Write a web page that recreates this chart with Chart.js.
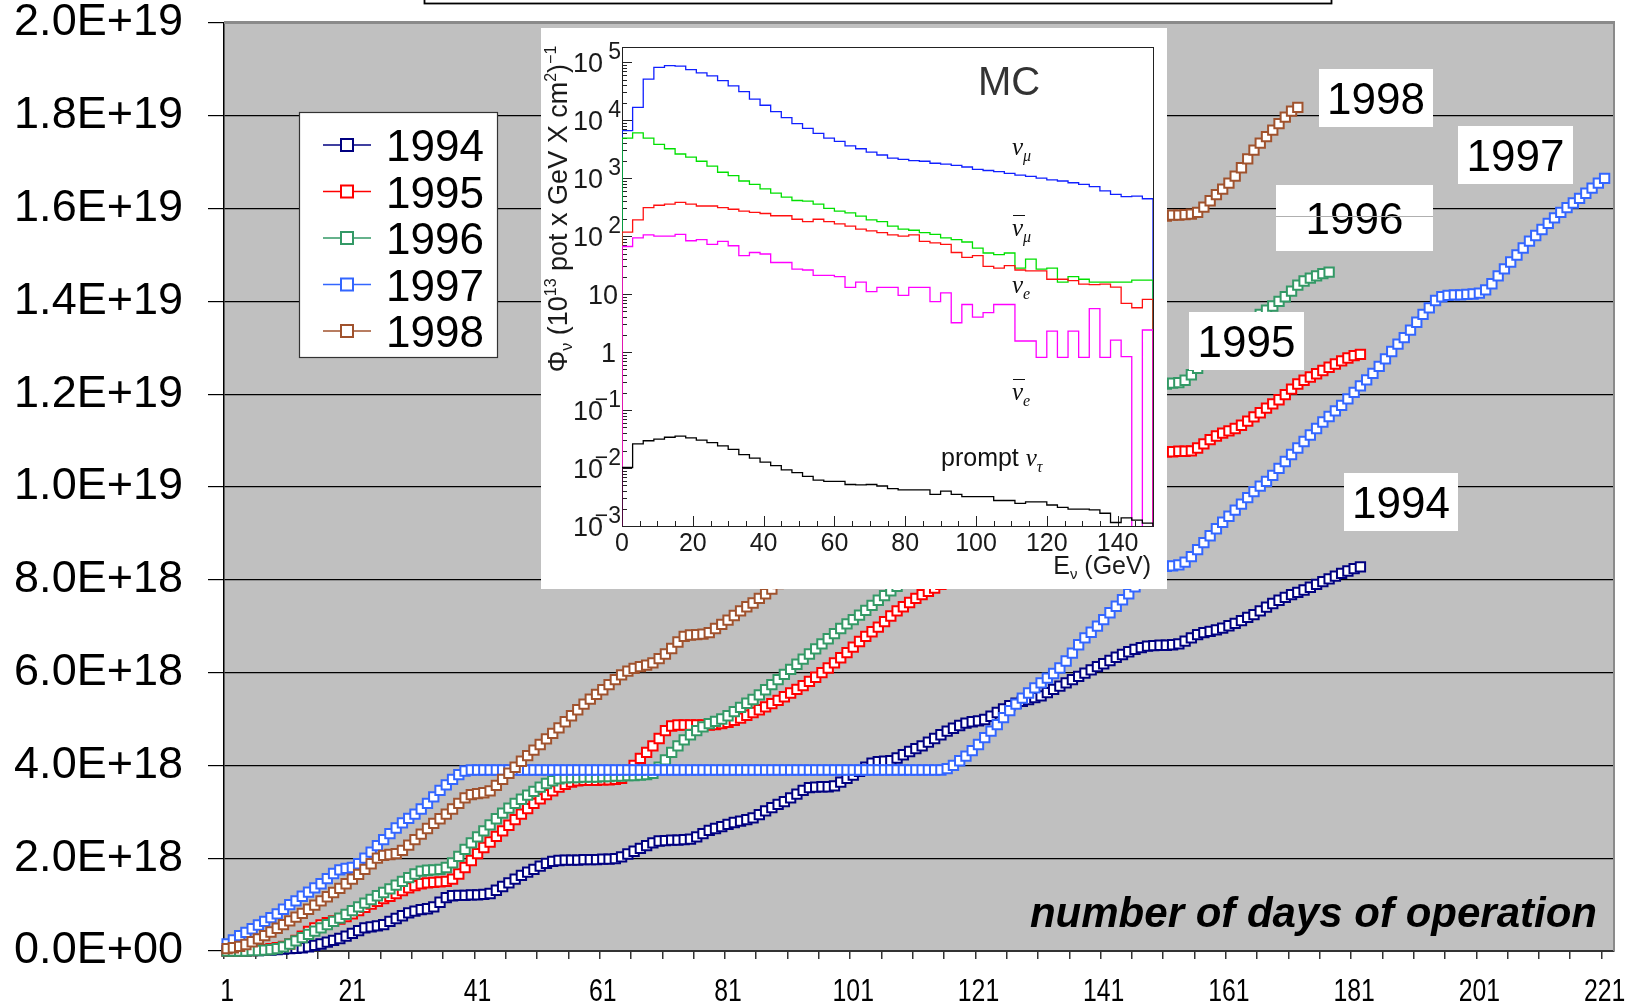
<!DOCTYPE html>
<html>
<head>
<meta charset="utf-8">
<script src="https://cdn.jsdelivr.net/npm/chart.js@4.4.1/dist/chart.umd.min.js"></script>
<style>
html, body { margin: 0; padding: 0; background: #fff; }
#wrap { position: relative; width: 1628px; height: 1005px; overflow: hidden; }
#main { position: absolute; left: 0; top: 0; }
#inset { position: absolute; left: 541px; top: 28px; }
</style>
</head>
<body>
<div id="wrap">
  <canvas id="main" width="1628" height="1005"></canvas>
  <canvas id="inset" width="626" height="561"></canvas>
</div>
<script>
// === data: protons on target, units of 1E18 ===
const days = [];
for (let d = 1; d <= 222; d++) days.push(String(d));
const dayTicks = ['1', '21', '41', '61', '81', '101', '121', '141', '161', '181', '201', '221'];
const yTicks = ['0.0E+00', '2.0E+18', '4.0E+18', '6.0E+18', '8.0E+18', '1.0E+19', '1.2E+19', '1.4E+19', '1.6E+19', '1.8E+19', '2.0E+19'];
const years = ['1994', '1995', '1996', '1997', '1998'];
const yearColors = ['#000080', '#ff0000', '#339966', '#3366ff', '#a0522d'];

const pot1994 = [
  0.00, 0.00, 0.00, 0.00, 0.01, 0.01, 0.02, 0.02, 0.03, 0.04,
  0.05, 0.06, 0.07, 0.09, 0.12, 0.15, 0.19, 0.23, 0.27, 0.32,
  0.38, 0.44, 0.50, 0.52, 0.54, 0.57, 0.64, 0.70, 0.76, 0.82,
  0.86, 0.89, 0.91, 0.95, 1.05, 1.15, 1.19, 1.20, 1.20, 1.21,
  1.21, 1.22, 1.24, 1.31, 1.39, 1.47, 1.55, 1.63, 1.70, 1.76,
  1.83, 1.89, 1.93, 1.95, 1.96, 1.96, 1.96, 1.97, 1.97, 1.97,
  1.98, 1.98, 1.99, 2.03, 2.09, 2.15, 2.21, 2.27, 2.33, 2.37,
  2.38, 2.39, 2.39, 2.40, 2.41, 2.46, 2.53, 2.60, 2.64, 2.68,
  2.73, 2.77, 2.80, 2.83, 2.87, 2.94, 3.02, 3.09, 3.16, 3.22,
  3.30, 3.38, 3.46, 3.52, 3.53, 3.54, 3.54, 3.56, 3.64, 3.72,
  3.79, 3.87, 3.96, 4.05, 4.08, 4.09, 4.10, 4.16, 4.23, 4.30,
  4.36, 4.42, 4.50, 4.58, 4.66, 4.74, 4.80, 4.86, 4.91, 4.94,
  4.96, 4.99, 5.06, 5.14, 5.22, 5.29, 5.34, 5.38, 5.42, 5.46,
  5.50, 5.57, 5.64, 5.71, 5.78, 5.85, 5.92, 5.99, 6.06, 6.13,
  6.19, 6.26, 6.33, 6.39, 6.45, 6.50, 6.54, 6.57, 6.58, 6.59,
  6.59, 6.60, 6.62, 6.68, 6.75, 6.82, 6.86, 6.89, 6.92, 6.96,
  7.01, 7.06, 7.12, 7.19, 7.25, 7.33, 7.41, 7.49, 7.56, 7.62,
  7.68, 7.73, 7.78, 7.84, 7.90, 7.96, 8.02, 8.08, 8.14, 8.19,
  8.24, 8.28
];
const pot1995 = [
  0.00, 0.00, 0.00, 0.01, 0.01, 0.02, 0.03, 0.05, 0.07, 0.10,
  0.15, 0.23, 0.32, 0.42, 0.50, 0.56, 0.61, 0.65, 0.69, 0.74,
  0.80, 0.87, 0.94, 1.01, 1.07, 1.13, 1.18, 1.24, 1.30, 1.36,
  1.41, 1.45, 1.47, 1.48, 1.49, 1.50, 1.55, 1.66, 1.80, 1.95,
  2.10, 2.23, 2.35, 2.47, 2.59, 2.71, 2.83, 2.95, 3.07, 3.18,
  3.28, 3.37, 3.45, 3.53, 3.59, 3.64, 3.67, 3.68, 3.68, 3.68,
  3.69, 3.69, 3.70, 3.72, 3.83, 4.00, 4.15, 4.28, 4.42, 4.58,
  4.75, 4.85, 4.87, 4.87, 4.87, 4.87, 4.87, 4.87, 4.88, 4.90,
  4.93, 4.97, 5.02, 5.08, 5.14, 5.20, 5.26, 5.33, 5.40, 5.48,
  5.56, 5.64, 5.72, 5.81, 5.90, 6.00, 6.10, 6.21, 6.32, 6.43,
  6.55, 6.67, 6.78, 6.88, 6.98, 7.10, 7.22, 7.33, 7.42, 7.51,
  7.60, 7.68, 7.75, 7.82, 7.90, 7.99, 8.09, 8.18, 8.26, 8.35,
  8.45, 8.55, 8.63, 8.71, 8.80, 8.90, 9.00, 9.08, 9.16, 9.25,
  9.35, 9.45, 9.53, 9.61, 9.70, 9.80, 9.90, 9.98, 10.06, 10.15,
  10.25, 10.35, 10.43, 10.51, 10.60, 10.67, 10.72, 10.75, 10.76, 10.76,
  10.76, 10.76, 10.77, 10.77, 10.78, 10.84, 10.93, 11.02, 11.10, 11.16,
  11.21, 11.26, 11.33, 11.42, 11.51, 11.60, 11.70, 11.79, 11.88, 11.99,
  12.11, 12.22, 12.30, 12.37, 12.44, 12.51, 12.58, 12.65, 12.72, 12.78,
  12.83, 12.86
];
const pot1996 = [
  0.00, 0.00, 0.00, 0.00, 0.01, 0.01, 0.02, 0.03, 0.05, 0.09,
  0.15, 0.22, 0.29, 0.36, 0.43, 0.50, 0.57, 0.64, 0.71, 0.79,
  0.87, 0.95, 1.03, 1.11, 1.19, 1.26, 1.34, 1.42, 1.50, 1.58,
  1.66, 1.72, 1.74, 1.75, 1.76, 1.80, 1.90, 2.04, 2.19, 2.33,
  2.46, 2.59, 2.72, 2.85, 2.97, 3.08, 3.18, 3.27, 3.36, 3.44,
  3.53, 3.61, 3.67, 3.71, 3.73, 3.74, 3.74, 3.75, 3.75, 3.75,
  3.76, 3.76, 3.77, 3.77, 3.78, 3.78, 3.79, 3.80, 3.83, 3.96,
  4.12, 4.28, 4.42, 4.55, 4.66, 4.75, 4.83, 4.90, 4.95, 5.00,
  5.07, 5.16, 5.25, 5.34, 5.42, 5.52, 5.63, 5.74, 5.85, 5.96,
  6.07, 6.18, 6.29, 6.40, 6.51, 6.62, 6.73, 6.84, 6.95, 7.05,
  7.14, 7.24, 7.34, 7.45, 7.56, 7.66, 7.76, 7.86, 7.96, 8.07,
  8.17, 8.27, 8.36, 8.46, 8.57, 8.68, 8.79, 8.89, 8.98, 9.08,
  9.19, 9.30, 9.40, 9.50, 9.59, 9.69, 9.80, 9.91, 10.02, 10.12,
  10.21, 10.31, 10.42, 10.53, 10.63, 10.73, 10.82, 10.92, 11.03, 11.14,
  11.25, 11.35, 11.44, 11.54, 11.65, 11.76, 11.87, 11.97, 12.06, 12.15,
  12.22, 12.24, 12.25, 12.30, 12.42, 12.56, 12.70, 12.84, 12.98, 13.12,
  13.25, 13.37, 13.47, 13.56, 13.64, 13.72, 13.81, 13.90, 14.00, 14.10,
  14.22, 14.35, 14.44, 14.50, 14.55, 14.60, 14.63
];
const pot1997 = [
  0.15, 0.24, 0.33, 0.40, 0.48, 0.56, 0.64, 0.72, 0.80, 0.90,
  1.00, 1.08, 1.18, 1.27, 1.36, 1.45, 1.56, 1.67, 1.75, 1.78,
  1.80, 1.88, 2.00, 2.13, 2.27, 2.40, 2.53, 2.65, 2.76, 2.86,
  2.95, 3.06, 3.18, 3.32, 3.46, 3.58, 3.70, 3.80, 3.88, 3.90,
  3.90, 3.90, 3.90, 3.90, 3.90, 3.90, 3.90, 3.90, 3.90, 3.90,
  3.90, 3.90, 3.90, 3.90, 3.90, 3.90, 3.90, 3.90, 3.90, 3.90,
  3.90, 3.90, 3.90, 3.90, 3.90, 3.90, 3.90, 3.90, 3.90, 3.90,
  3.90, 3.90, 3.90, 3.90, 3.90, 3.90, 3.90, 3.90, 3.90, 3.90,
  3.90, 3.90, 3.90, 3.90, 3.90, 3.90, 3.90, 3.90, 3.90, 3.90,
  3.90, 3.90, 3.90, 3.90, 3.90, 3.90, 3.90, 3.90, 3.90, 3.90,
  3.90, 3.90, 3.90, 3.90, 3.90, 3.90, 3.90, 3.90, 3.90, 3.90,
  3.90, 3.90, 3.90, 3.90, 3.90, 3.93, 4.00, 4.10, 4.20, 4.32,
  4.45, 4.60, 4.74, 4.88, 5.03, 5.18, 5.32, 5.45, 5.56, 5.67,
  5.78, 5.88, 5.98, 6.10, 6.25, 6.42, 6.60, 6.75, 6.87, 7.00,
  7.14, 7.29, 7.43, 7.57, 7.70, 7.85, 8.00, 8.13, 8.24, 8.28,
  8.29, 8.30, 8.32, 8.38, 8.50, 8.65, 8.80, 8.95, 9.10, 9.24,
  9.37, 9.50, 9.63, 9.77, 9.90, 10.02, 10.12, 10.25, 10.40, 10.55,
  10.70, 10.84, 10.98, 11.12, 11.26, 11.40, 11.52, 11.64, 11.76, 11.90,
  12.04, 12.18, 12.31, 12.45, 12.60, 12.76, 12.92, 13.08, 13.22, 13.38,
  13.55, 13.72, 13.86, 14.02, 14.10, 14.13, 14.14, 14.14, 14.15, 14.16,
  14.18, 14.25, 14.38, 14.55, 14.70, 14.85, 15.00, 15.15, 15.30, 15.42,
  15.55, 15.68, 15.80, 15.92, 16.02, 16.12, 16.22, 16.33, 16.44, 16.55,
  16.65
];
const pot1998 = [
  0.05, 0.07, 0.10, 0.14, 0.20, 0.26, 0.33, 0.41, 0.49, 0.57,
  0.65, 0.73, 0.81, 0.90, 0.99, 1.08, 1.17, 1.26, 1.35, 1.45,
  1.55, 1.65, 1.76, 1.88, 2.00, 2.06, 2.08, 2.10, 2.17, 2.28,
  2.40, 2.52, 2.64, 2.75, 2.85, 2.95, 3.06, 3.18, 3.30, 3.37,
  3.39, 3.41, 3.45, 3.57, 3.70, 3.83, 3.96, 4.09, 4.21, 4.33,
  4.45, 4.57, 4.69, 4.81, 4.94, 5.07, 5.20, 5.32, 5.43, 5.53,
  5.63, 5.74, 5.85, 5.95, 6.03, 6.09, 6.13, 6.16, 6.21, 6.30,
  6.40, 6.52, 6.66, 6.78, 6.81, 6.82, 6.83, 6.86, 6.95, 7.04,
  7.13, 7.23, 7.33, 7.42, 7.50, 7.60, 7.70, 7.80, 7.92, 8.04,
  8.17, 8.30, 8.42, 8.54, 8.66, 8.79, 8.93, 9.06, 9.18, 9.30,
  9.42, 9.55, 9.68, 9.82, 9.95, 10.07, 10.18, 10.30, 10.43, 10.57,
  10.73, 10.85, 10.96, 11.08, 11.21, 11.35, 11.48, 11.60, 11.71, 11.83,
  11.96, 12.10, 12.23, 12.35, 12.46, 12.58, 12.71, 12.85, 12.98, 13.10,
  13.21, 13.33, 13.46, 13.60, 13.73, 13.85, 13.96, 14.08, 14.21, 14.35,
  14.48, 14.60, 14.71, 14.83, 14.96, 15.10, 15.23, 15.40, 15.60, 15.78,
  15.84, 15.86, 15.86, 15.87, 15.88, 15.92, 16.03, 16.17, 16.30, 16.42,
  16.55, 16.70, 16.88, 17.07, 17.26, 17.41, 17.55, 17.69, 17.83, 17.97,
  18.10, 18.18
];
const potSeries = [pot1994, pot1995, pot1996, pot1997, pot1998];

// === inset: MC flux per 3 GeV bin ===
const eBins = Array.from({ length: 51 }, (_, k) => 3 * k);
const eTicks = [0, 20, 40, 60, 80, 100, 120, 140];
const fluxDecades = [-3, -2, -1, 0, 1, 2, 3, 4, 5];
const fluxNuMu = [6600, 16600, 51000, 81000, 87000, 85000, 74000, 65000, 58000, 48000,
  39000, 31000, 23000, 18000, 14000, 11000, 8700, 7200, 5900, 4900,
  4300, 3600, 3200, 2800, 2500, 2200, 2100, 2000, 1950, 1800,
  1740, 1660, 1550, 1410, 1350, 1290, 1200, 1120, 1070, 1000,
  930, 890, 830, 780, 710, 600, 525, 480, 490, 440];
const fluxNuMuBar = [4900, 6000, 4900, 3800, 3200, 2600, 2300, 1950, 1600, 1260,
  1100, 890, 780, 650, 550, 470, 410, 400, 355, 300,
  270, 250, 220, 190, 178, 148, 132, 126, 115, 107,
  93, 87, 79, 62, 51, 48, 51, 28, 40, 27,
  28, 16, 20, 18, 16, 16, 16, 16, 17.4, 17.4];
const fluxNuE = [117, 190, 310, 340, 355, 380, 355, 330, 330, 310,
  290, 270, 257, 245, 224, 224, 195, 178, 195, 178,
  162, 148, 132, 123, 115, 105, 100, 105, 81, 76,
  72, 52, 43, 46, 30, 28, 31, 26, 25, 25,
  18, 18, 17, 14.8, 14.5, 14.8, 13.2, 6.9, 5.8, 8.1];
const fluxNuEBar = [66, 93, 105, 100, 100, 107, 83, 87, 72, 81,
  68, 46, 52, 49, 35, 35, 27, 26, 21, 21,
  20, 13, 16, 11, 13, 13, 9.5, 13, 13, 7.4,
  10.5, 3.2, 6.6, 4.0, 4.8, 6.6, 6.6, 1.55, 1.55, 0.81,
  2.3, 0.81, 2.3, 0.81, 5.6, 0.81, 1.6, 0.83, 0, 2.4];
const fluxNuTau = [0.0102, 0.026, 0.0295, 0.0316, 0.0339, 0.0355, 0.0331, 0.0302, 0.0275, 0.024,
  0.0209, 0.017, 0.0148, 0.0126, 0.011, 0.0093, 0.0083, 0.0072, 0.0062, 0.0059,
  0.0059, 0.0052, 0.0051, 0.0052, 0.0049, 0.0044, 0.0042, 0.0042, 0.0042, 0.0035,
  0.0040, 0.0035, 0.0032, 0.0032, 0.0032, 0.00275, 0.00275, 0.00245, 0.0026, 0.0026,
  0.0023, 0.0021, 0.00195, 0.00195, 0.0019, 0.00166, 0.00115, 0.00138, 0.00126, 0.00112];
const fluxSeries = [fluxNuMu, fluxNuMuBar, fluxNuE, fluxNuEBar, fluxNuTau];
const fluxColors = ['#1020ff', '#00e000', '#ff1010', '#ff00ff', '#000000'];
const histFloor = 1e-4;

const SANS = '"Liberation Sans", Arial, sans-serif';
const SERIF = '"Liberation Serif", "Times New Roman", serif';
Chart.defaults.font.family = SANS;
Chart.defaults.color = '#000';

function drawRuns(ctx, runs, x, y, align) {
    let w = 0;
    runs.forEach(r => { ctx.font = r.font; r.w = ctx.measureText(r.t).width; w += r.w; });
    let cx = align === 'center' ? x - w / 2 : (align === 'right' ? x - w : x);
    ctx.textAlign = 'left';
    runs.forEach(r => { ctx.font = r.font; ctx.fillText(r.t, cx, y + (r.dy || 0)); cx += r.w; });
}

function square(ctx, x, y, side, color) {
    ctx.fillStyle = '#fff';
    ctx.fillRect(x - side / 2, y - side / 2, side, side);
    ctx.strokeStyle = color;
    ctx.lineWidth = 2;
    ctx.strokeRect(x - side / 2, y - side / 2, side, side);
}

// === main chart decorations ===
const mainDecor = {
    id: 'mainDecor',
    beforeDraw(chart) {
        const { ctx, chartArea: a } = chart;
        ctx.save();
        ctx.fillStyle = '#fff';
        ctx.fillRect(0, 0, chart.width, chart.height);
        ctx.fillStyle = '#c0c0c0';
        ctx.fillRect(a.left, a.top, a.right - a.left, a.bottom - a.top);
        ctx.restore();
    },
    afterDraw(chart) {
        const { ctx, chartArea: a } = chart;
        const xs = chart.scales.x;
        ctx.save();

        // plot frame, top and right
        ctx.strokeStyle = '#8a8a8a';
        ctx.lineWidth = 3;
        ctx.beginPath(); ctx.moveTo(a.left, a.top - 0.5); ctx.lineTo(a.right + 1, a.top - 0.5); ctx.stroke();
        ctx.lineWidth = 2;
        ctx.beginPath(); ctx.moveTo(a.right, a.top); ctx.lineTo(a.right, a.bottom); ctx.stroke();

        // narrow day labels
        ctx.fillStyle = '#000';
        ctx.font = '31px ' + SANS;
        ctx.textAlign = 'center';
        ctx.textBaseline = 'alphabetic';
        dayTicks.forEach(t => {
            const x = xs.getPixelForValue(days.indexOf(t));
            ctx.save();
            ctx.translate(x, 1001);
            ctx.scale(0.8, 1);
            ctx.fillText(t, 0, 0);
            ctx.restore();
        });

        ctx.font = 'italic bold 42px ' + SANS;
        ctx.textAlign = 'right';
        ctx.fillText('number of days of operation', 1597, 927);

        // legend
        ctx.fillStyle = '#fff';
        ctx.fillRect(299, 112, 198, 245);
        ctx.strokeStyle = '#333';
        ctx.lineWidth = 1.2;
        ctx.strokeRect(299.5, 112.5, 198, 245);
        years.forEach((yr, k) => {
            const cy = 145 + k * 46.5;
            ctx.strokeStyle = yearColors[k];
            ctx.lineWidth = 1.6;
            ctx.beginPath(); ctx.moveTo(323, cy); ctx.lineTo(371, cy); ctx.stroke();
            square(ctx, 347, cy, 12, yearColors[k]);
            ctx.fillStyle = '#000';
            ctx.font = '44px ' + SANS;
            ctx.textAlign = 'left';
            ctx.fillText(yr, 386, cy + 16);
        });

        // year tags
        const tags = [
            { t: '1998', x: 1319, y: 69, w: 114, h: 58 },
            { t: '1997', x: 1458, y: 126, w: 115, h: 58 },
            { t: '1996', x: 1276, y: 185, w: 157, h: 66 },
            { t: '1995', x: 1189, y: 312, w: 115, h: 58 },
            { t: '1994', x: 1344, y: 473, w: 114, h: 58 }
        ];
        tags.forEach(g => {
            ctx.fillStyle = '#fff';
            ctx.fillRect(g.x, g.y, g.w, g.h);
            ctx.fillStyle = '#000';
            ctx.font = '44px ' + SANS;
            ctx.textAlign = 'center';
            ctx.fillText(g.t, g.x + g.w / 2, g.y + g.h / 2 + 16);
        });
        ctx.strokeStyle = '#b0b0b0';
        ctx.lineWidth = 1;
        ctx.beginPath(); ctx.moveTo(1276, 216.5); ctx.lineTo(1433, 216.5); ctx.stroke();

        // box cut off at the top
        ctx.fillStyle = '#fff';
        ctx.fillRect(424, -10, 907, 14);
        ctx.strokeStyle = '#000';
        ctx.lineWidth = 1.8;
        ctx.strokeRect(424.5, -10, 907, 13.5);
        ctx.restore();
    }
};

new Chart(document.getElementById('main'), {
    type: 'line',
    data: {
        labels: days,
        datasets: years.map((yr, k) => ({
            label: yr,
            data: potSeries[k],
            borderColor: yearColors[k],
            borderWidth: 1.2,
            pointStyle: 'rect',
            pointRadius: 6.6,
            pointBorderWidth: 2,
            pointBackgroundColor: '#fff',
            pointBorderColor: yearColors[k],
            tension: 0,
            order: 5 - k,
            clip: false
        }))
    },
    options: {
        responsive: false,
        animation: false,
        events: [],
        layout: { padding: { top: 23, right: 14, left: 0, bottom: 0 } },
        plugins: { legend: { display: false }, tooltip: { enabled: false } },
        scales: {
            x: {
                type: 'category',
                offset: true,
                grid: {
                    offset: true,
                    drawOnChartArea: false,
                    tickLength: 8,
                    lineWidth: 1.5,
                    color: c => (c.index % 5 === 0 ? '#333' : 'rgba(0,0,0,0)')
                },
                border: { color: '#333', width: 2 },
                ticks: { display: false, autoSkip: false },
                afterFit: s => { s.height = 54; s.paddingLeft = 0; s.paddingRight = 0; }
            },
            y: {
                min: 0,
                max: 20,
                ticks: {
                    stepSize: 2,
                    padding: 25,
                    font: { size: 45, lineHeight: 1 },
                    color: '#000',
                    callback: (v, i) => yTicks[i]
                },
                grid: { color: '#000', lineWidth: 1.2, tickLength: 16 },
                border: { color: '#000', width: 1.5 },
                afterFit: s => { s.width = 224; s.paddingTop = 0; s.paddingBottom = 0; }
            }
        }
    },
    plugins: [mainDecor]
});

// === inset: flux histogram ===
function histPoints(vals) {
    const pts = [{ x: eBins[0], y: histFloor }];
    vals.forEach((v, k) => pts.push({ x: eBins[k], y: v > 0 ? v : histFloor }));
    const last = vals[vals.length - 1];
    pts.push({ x: eBins[50], y: last > 0 ? last : histFloor });
    pts.push({ x: eBins[50], y: histFloor });
    return pts;
}

const insetDecor = {
    id: 'insetDecor',
    beforeDraw(chart) {
        const { ctx } = chart;
        ctx.save();
        ctx.fillStyle = '#fff';
        ctx.fillRect(0, 0, chart.width, chart.height);
        ctx.restore();
    },
    beforeDatasetsDraw(chart) {
        const { ctx, chartArea: a } = chart;
        const xs = chart.scales.x, ys = chart.scales.y;
        ctx.save();
        ctx.strokeStyle = '#222';
        ctx.lineWidth = 1;
        ctx.strokeRect(a.left + 0.5, a.top + 0.5, a.right - a.left, a.bottom - a.top);
        ctx.beginPath();
        for (let e = 0; e <= 150; e += 5) {
            const px = Math.round(xs.getPixelForValue(e)) + 0.5;
            const len = e % 20 === 0 ? 10 : 5;
            ctx.moveTo(px, a.bottom);
            ctx.lineTo(px, a.bottom - len);
        }
        fluxDecades.forEach(k => {
            for (let m = 1; m <= 9; m++) {
                const v = m * Math.pow(10, k);
                if (v > ys.max) break;
                const py = Math.round(ys.getPixelForValue(v)) + 0.5;
                ctx.moveTo(a.left, py);
                ctx.lineTo(a.left + (m === 1 ? 10 : 5), py);
            }
        });
        ctx.stroke();
        ctx.restore();
    },
    afterDraw(chart) {
        const { ctx, chartArea: a } = chart;
        const xs = chart.scales.x, ys = chart.scales.y;
        ctx.save();
        ctx.fillStyle = '#1a1a1a';
        ctx.textBaseline = 'alphabetic';

        ctx.font = '25px ' + SANS;
        ctx.textAlign = 'center';
        eTicks.forEach(e => ctx.fillText(String(e), xs.getPixelForValue(e), a.bottom + 25));

        fluxDecades.forEach(k => {
            const py = ys.getPixelForValue(Math.pow(10, k));
            ctx.textAlign = 'right';
            ctx.font = '27px ' + SANS;
            if (k === 0) { ctx.fillText('1', a.left - 6, py + 10); return; }
            if (k === 1) { ctx.fillText('10', a.left - 4, py + 10); return; }
            ctx.fillText('10', a.left - 19, py + 10);
            ctx.font = '23px ' + SANS;
            ctx.fillText(k < 0 ? '\u2212' + (-k) : String(k), a.left - 1, py - 3);
        });

        // rotated axis title
        ctx.save();
        ctx.translate(17, 181);
        ctx.rotate(-Math.PI / 2);
        drawRuns(ctx, [
            { t: '\u03a6', font: '27px ' + SANS },
            { t: '\u03bd', font: '16px ' + SANS, dy: 5 },
            { t: ' (10', font: '27px ' + SANS },
            { t: '13', font: '16px ' + SANS, dy: -11 },
            { t: ' pot x GeV X cm', font: '27px ' + SANS },
            { t: '2', font: '16px ' + SANS, dy: -11 },
            { t: ')', font: '27px ' + SANS },
            { t: '\u22121', font: '16px ' + SANS, dy: -11 }
        ], 0, 9, 'center');
        ctx.restore();

        ctx.fillStyle = '#333';
        ctx.font = '40px ' + SANS;
        ctx.textAlign = 'left';
        ctx.fillText('MC', 437, 67);

        ctx.fillStyle = '#111';
        const nu = 'italic 25px ' + SERIF, sub = 'italic 16px ' + SERIF;
        drawRuns(ctx, [{ t: '\u03bd', font: nu }, { t: '\u03bc', font: sub, dy: 6 }], 471, 127, 'left');
        drawRuns(ctx, [{ t: '\u03bd', font: nu }, { t: '\u03bc', font: sub, dy: 6 }], 471, 208, 'left');
        drawRuns(ctx, [{ t: '\u03bd', font: nu }, { t: 'e', font: sub, dy: 6 }], 471, 265, 'left');
        drawRuns(ctx, [{ t: '\u03bd', font: nu }, { t: 'e', font: sub, dy: 6 }], 471, 372, 'left');
        ctx.strokeStyle = '#111';
        ctx.lineWidth = 1.2;
        ctx.beginPath();
        ctx.moveTo(472, 187.5); ctx.lineTo(484, 187.5);
        ctx.moveTo(472, 351.5); ctx.lineTo(484, 351.5);
        ctx.stroke();

        drawRuns(ctx, [
            { t: 'prompt ', font: '25px ' + SANS },
            { t: '\u03bd', font: nu },
            { t: '\u03c4', font: sub, dy: 6 }
        ], 400, 438, 'left');

        ctx.fillStyle = '#1a1a1a';
        drawRuns(ctx, [
            { t: 'E', font: '25px ' + SANS },
            { t: '\u03bd', font: '15px ' + SANS, dy: 5 },
            { t: ' (GeV)', font: '25px ' + SANS }
        ], 610, 546, 'right');
        ctx.restore();
    }
};

new Chart(document.getElementById('inset'), {
    type: 'line',
    data: {
        datasets: fluxSeries.map((s, k) => ({
            data: histPoints(s),
            borderColor: fluxColors[k],
            borderWidth: 1.3,
            pointRadius: 0,
            stepped: true,
            tension: 0,
            order: 5 - k
        }))
    },
    options: {
        responsive: false,
        animation: false,
        events: [],
        layout: { padding: { left: 81, top: 19, right: 14, bottom: 63 } },
        plugins: { legend: { display: false }, tooltip: { enabled: false } },
        scales: {
            x: { type: 'linear', min: 0, max: 150, display: false },
            y: { type: 'logarithmic', min: 1e-3, max: 1.82e5, display: false }
        }
    },
    plugins: [insetDecor]
});
</script>
</body>
</html>
